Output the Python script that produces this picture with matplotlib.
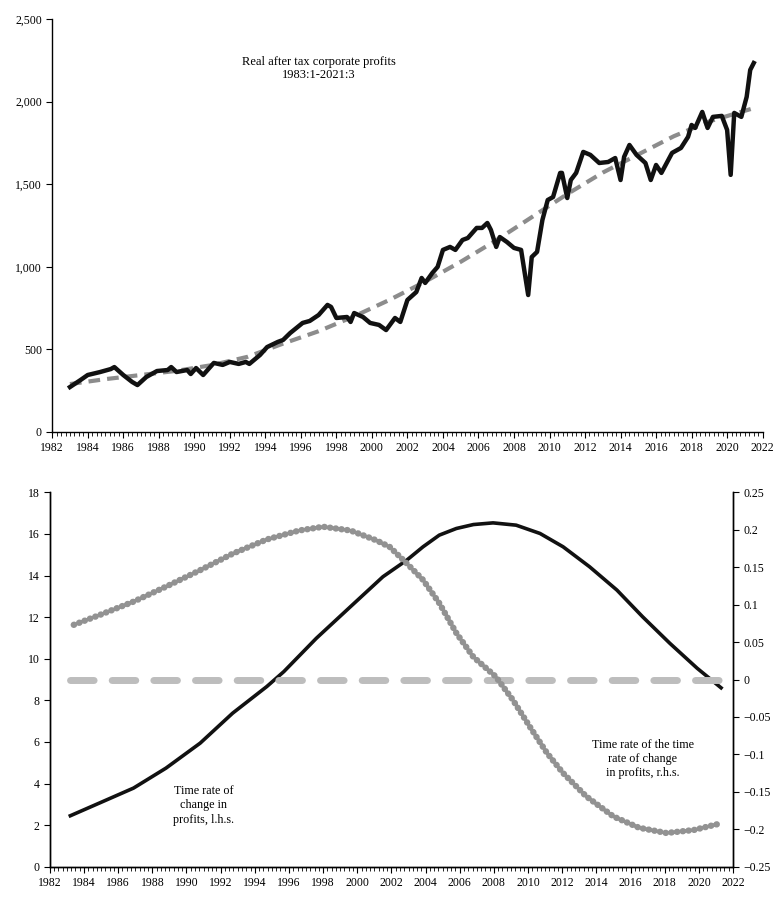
import matplotlib
matplotlib.use("Agg")
import matplotlib.pyplot as plt
from matplotlib.ticker import MultipleLocator, FuncFormatter

plt.rcParams['font.family'] = ['Liberation Serif', 'DejaVu Serif']
plt.rcParams['font.size'] = 8.5

# --- top panel: real after tax corporate profits
profit_year = [1983.0, 1983.6, 1984.0, 1984.7, 1985.3, 1985.5, 1986.0, 1986.5, 1986.8,
               1987.3, 1987.9, 1988.5, 1988.7, 1989.0, 1989.6, 1989.8, 1990.1, 1990.5,
               1991.1, 1991.6, 1992.0, 1992.5, 1992.9, 1993.1, 1993.7, 1994.1, 1994.7,
               1995.0, 1995.4, 1996.1, 1996.5, 1997.0, 1997.5, 1997.7, 1998.0, 1998.6,
               1998.8, 1999.0, 1999.5, 1999.9, 2000.4, 2000.8, 2001.3, 2001.6, 2002.0,
               2002.5, 2002.8, 2003.0, 2003.4, 2003.7, 2004.0, 2004.4, 2004.7, 2005.1,
               2005.4, 2005.9, 2006.2, 2006.5, 2006.7, 2007.0, 2007.2, 2007.6, 2008.0,
               2008.4, 2008.8, 2009.0, 2009.3, 2009.6, 2009.9, 2010.2, 2010.6, 2010.7,
               2011.0, 2011.2, 2011.5, 2011.9, 2012.3, 2012.8, 2013.3, 2013.7, 2014.0,
               2014.2, 2014.5, 2014.9, 2015.4, 2015.7, 2016.0, 2016.3, 2016.9, 2017.4,
               2017.8, 2018.0, 2018.2, 2018.6, 2018.9, 2019.2, 2019.7, 2020.0, 2020.2,
               2020.4, 2020.8, 2021.1, 2021.3, 2021.5]
profit_value = [272, 315, 345, 363, 381, 393, 345, 303, 284,
                333, 369, 375, 393, 363, 375, 351, 387, 345,
                418, 406, 424, 412, 424, 412, 466, 514, 545,
                557, 599, 660, 672, 708, 769, 757, 690, 696,
                666, 720, 696, 660, 648, 617, 690, 666, 799,
                847, 932, 902, 962, 999, 1102, 1120, 1102, 1162,
                1174, 1235, 1235, 1265, 1223, 1120, 1180, 1150, 1114,
                1102, 829, 1059, 1090, 1283, 1404, 1422, 1568, 1568,
                1416, 1525, 1568, 1695, 1677, 1628, 1634, 1658, 1525,
                1665, 1737, 1677, 1628, 1525, 1616, 1568, 1689, 1719,
                1786, 1858, 1840, 1937, 1840, 1907, 1913, 1828, 1556,
                1931, 1907, 2028, 2191, 2233]

trend_year = [1983.0, 1985, 1987, 1989, 1991, 1993, 1995, 1997, 1999, 2001,
              2003, 2005, 2007, 2009, 2011, 2013, 2015, 2017, 2019, 2021.5]
trend_value = [290, 320, 345, 370, 405, 455, 535, 610, 700, 800,
               910, 1030, 1160, 1300, 1440, 1570, 1680, 1790, 1880, 1960]

# --- bottom panel
rate_year = [1983.2, 1984.9, 1986.9, 1988.8, 1990.8, 1992.7, 1994.7, 1995.7, 1997.6,
             1999.6, 2001.5, 2002.9, 2003.85, 2004.8, 2005.8, 2006.8, 2007.95, 2009.3,
             2010.7, 2012.05, 2013.6, 2015.2, 2016.7, 2018.3, 2019.9, 2021.3]
rate_value = [2.45, 3.06, 3.78, 4.74, 5.94, 7.38, 8.66, 9.38, 10.98,
              12.5, 13.94, 14.74, 15.38, 15.94, 16.26, 16.45, 16.53, 16.42,
              16.02, 15.38, 14.42, 13.3, 12.02, 10.74, 9.54, 8.6]

accel_year = [1983.4, 1984.9, 1986.9, 1988.8, 1990.8, 1992.7, 1994.7, 1996.6, 1998.0,
              1999.6, 2001.1, 2001.9, 2002.9, 2003.85, 2004.8, 2005.8, 2006.8, 2008.1,
              2009.1, 2010.1, 2011.1, 2012.05, 2013.4, 2015.0, 2016.5, 2018.1, 2019.7,
              2021.3]
accel_value = [0.073, 0.086, 0.104, 0.124, 0.146, 0.168, 0.187, 0.199, 0.204,
               0.199, 0.186, 0.177, 0.155, 0.133, 0.102, 0.062, 0.030, 0.004,
               -0.027, -0.063, -0.098, -0.125, -0.156, -0.183, -0.198, -0.205, -0.201,
               -0.192]

zero_year = [1983.2, 2021.5]
zero_value = [0, 0]

left_ticks = [0, 2, 4, 6, 8, 10, 12, 14, 16, 18]
right_ticks = [0.25, 0.2, 0.15, 0.1, 0.05, 0, -0.05, -0.1, -0.15, -0.2, -0.25]
right_labels = ['0.25', '0.2', '0.15', '0.1', '0.05', '0',
                '\u22120.05', '\u22120.1', '\u22120.15', '\u22120.2', '\u22120.25']

fig = plt.figure(figsize=(7.79, 9.0), dpi=100)

# top
ax1 = fig.add_axes([0.067, 0.52, 0.912, 0.459])
ax1.plot(trend_year, trend_value, color='#8c8c8c', lw=3, ls=(0, (2.8, 1.7)))
ax1.plot(profit_year, profit_value, color='#111111', lw=3.2, solid_joinstyle='round')
ax1.set_xlim(1982, 2022)
ax1.set_ylim(0, 2500)
ax1.xaxis.set_major_locator(MultipleLocator(2))
ax1.xaxis.set_minor_locator(MultipleLocator(0.25))
ax1.yaxis.set_major_locator(MultipleLocator(500))
ax1.yaxis.set_major_formatter(FuncFormatter(lambda v, p: f'{int(v):,}'))
ax1.text(1997.0, 2199, 'Real after tax corporate profits\n1983:1-2021:3',
         ha='center', va='center', fontsize=9, linespacing=1.15)
for s in ['top', 'right']:
    ax1.spines[s].set_visible(False)

# bottom
ax2 = fig.add_axes([0.064, 0.037, 0.877, 0.416])
ax2.plot(rate_year, rate_value, color='#111111', lw=2.6)
ax2.set_xlim(1982, 2022)
ax2.set_ylim(0, 18)
ax2.set_yticks(left_ticks)
ax2.xaxis.set_major_locator(MultipleLocator(2))
ax2.xaxis.set_minor_locator(MultipleLocator(0.25))
ax2.text(1991.0, 2.95, 'Time rate of\nchange in\nprofits, l.h.s.',
         ha='center', va='center', fontsize=8.7, linespacing=1.3)
ax2.spines['top'].set_visible(False)

ax3 = ax2.twinx()
ax3.plot(zero_year, zero_value, color='#bdbdbd', lw=5, ls=(0, (3.4, 2.6)),
         dash_capstyle='round')
ax3.plot(accel_year, accel_value, color='#929292', lw=4.6, ls=(0, (0.05, 0.85)),
         dash_capstyle='round')
ax3.set_ylim(-0.25, 0.25)
ax3.set_yticks(right_ticks)
ax3.set_yticklabels(right_labels)
ax3.text(2016.7, -0.106, 'Time rate of the time\nrate of change\nin profits, r.h.s.',
         ha='center', va='center', fontsize=8.7, linespacing=1.2)
ax3.spines['top'].set_visible(False)

for ax in (ax1, ax2, ax3):
    ax.tick_params(which='major', length=4, width=0.8, labelsize=8.5)
    ax.tick_params(which='minor', length=3, width=0.6)
    for s in ax.spines.values():
        s.set_linewidth(1.0)

fig.savefig('out.png', dpi=100)
